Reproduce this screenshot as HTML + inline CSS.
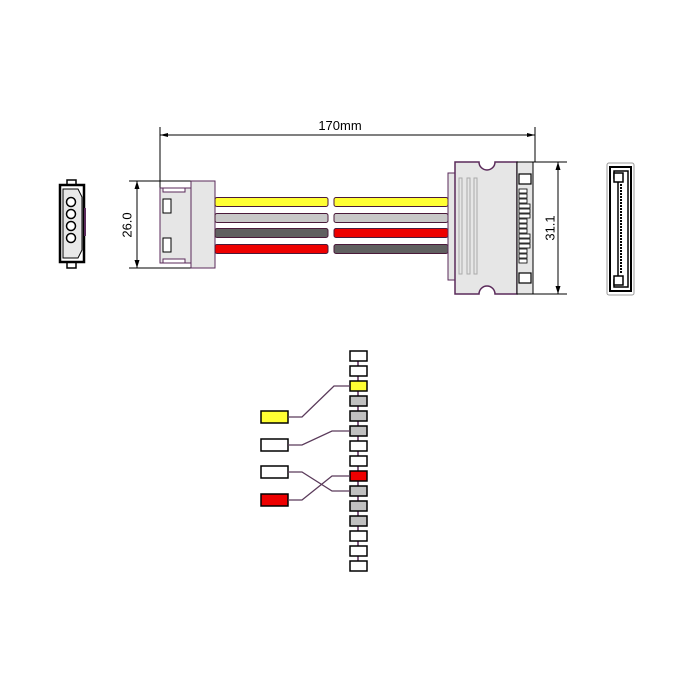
<!DOCTYPE html>
<html><head><meta charset="utf-8"><style>
html,body{margin:0;padding:0;background:#fff;}
svg{display:block;font-family:"Liberation Sans",sans-serif;}
</style></head><body>
<svg width="689" height="689" viewBox="0 0 689 689" xmlns="http://www.w3.org/2000/svg">
<!-- Molex front -->
<rect x="67" y="180" width="9" height="6" fill="#fff" stroke="#000" stroke-width="1.5"/>
<rect x="67" y="262" width="9" height="6" fill="#fff" stroke="#000" stroke-width="1.5"/>
<rect x="60" y="185" width="24" height="77" fill="#fff" stroke="#000" stroke-width="2.5"/>
<path d="M63 189 L78 189 L82 197 L82 250 L78 258 L63 258 Z" fill="#e8e8e8" stroke="#000" stroke-width="1"/>
<rect x="84" y="208" width="2" height="28" fill="#5a2a5a"/>
<g fill="#fff" stroke="#000" stroke-width="1.5">
<circle cx="71" cy="202" r="4.5"/><circle cx="71" cy="214" r="4.5"/><circle cx="71" cy="226" r="4.5"/><circle cx="71" cy="238" r="4.5"/>
</g>
<!-- dimensions -->
<g stroke="#000" stroke-width="1" fill="none">
<line x1="129" y1="181" x2="191" y2="181"/>
<line x1="129" y1="268" x2="215" y2="268"/>
<line x1="137" y1="181" x2="137" y2="268"/>
<line x1="160" y1="127" x2="160" y2="188"/>
<line x1="160" y1="135" x2="535" y2="135"/>
<line x1="535" y1="127" x2="535" y2="162"/>
<line x1="517" y1="162" x2="567" y2="162"/>
<line x1="517" y1="294" x2="567" y2="294"/>
<line x1="558" y1="162" x2="558" y2="294"/>
</g>
<g fill="#000">
<path d="M137 181 l-2.5 8 h5 z"/><path d="M137 268 l-2.5 -8 h5 z"/>
<path d="M160 135 l8 -2 v4 z"/><path d="M535 135 l-8 -2 v4 z"/>
<path d="M558 162 l-2.5 8 h5 z"/><path d="M558 294 l-2.5 -8 h5 z"/>
</g>
<text x="128" y="225" font-size="13" text-anchor="middle" transform="rotate(-90 128 225)" dominant-baseline="middle">26.0</text>
<text x="551" y="228" font-size="13" text-anchor="middle" transform="rotate(-90 551 228)" dominant-baseline="middle">31.1</text>
<text x="340" y="130" font-size="13" text-anchor="middle">170mm</text>
<!-- left connector -->
<rect x="160" y="188" width="31" height="75" fill="#e6e6e6" stroke="#5a2a5a" stroke-width="1"/>
<rect x="191" y="181" width="24" height="87" fill="#e6e6e6" stroke="#5a2a5a" stroke-width="1"/>
<rect x="163" y="188" width="22" height="4" fill="#fff" stroke="#5a2a5a" stroke-width="1"/>
<rect x="163" y="259" width="22" height="4" fill="#fff" stroke="#5a2a5a" stroke-width="1"/>
<rect x="163" y="199" width="8" height="14" fill="#fff" stroke="#000" stroke-width="1"/>
<rect x="163" y="238" width="8" height="14" fill="#fff" stroke="#000" stroke-width="1"/>
<!-- wires -->
<g stroke="#4a1a3a" stroke-width="1">
<rect x="215" y="197.5" width="113" height="9" rx="2" fill="#ffff33"/>
<rect x="215" y="213.5" width="113" height="9" rx="2" fill="#c8c8c8"/>
<rect x="215" y="228.5" width="113" height="9" rx="2" fill="#606060"/>
<rect x="215" y="244.5" width="113" height="9" rx="2" fill="#ee0000"/>
<rect x="334" y="197.5" width="114" height="9" rx="2" fill="#ffff33"/>
<rect x="334" y="213.5" width="114" height="9" rx="2" fill="#c8c8c8"/>
<rect x="334" y="228.5" width="114" height="9" rx="2" fill="#ee0000"/>
<rect x="334" y="244.5" width="114" height="9" rx="2" fill="#606060"/>
</g>
<!-- SATA connector -->
<rect x="448" y="173" width="7" height="107" fill="#e6e6e6" stroke="#5a2a5a" stroke-width="1"/>
<path d="M455 162 H479 A8 8 0 0 0 495 162 H517 V294 H495 A8 8 0 0 0 479 294 H455 Z" fill="#e6e6e6" stroke="#5a2a5a" stroke-width="1.5"/>
<g stroke="#aaa" stroke-width="1" fill="none">
<rect x="459" y="178" width="3" height="96"/><rect x="467" y="178" width="3" height="96"/><rect x="474" y="178" width="3" height="96"/>
</g>
<path d="M517 162 H533 V294 H517 Z" fill="#e6e6e6" stroke="#000" stroke-width="1"/>
<rect x="519" y="174" width="12" height="10" fill="#fff" stroke="#000" stroke-width="1.2"/>
<rect x="519" y="273" width="12" height="10" fill="#fff" stroke="#000" stroke-width="1.2"/>
<g fill="#fff" stroke="#000" stroke-width="0.8">
<rect x="519" y="189" width="8" height="4"/><rect x="519" y="194" width="8" height="4"/><rect x="519" y="199" width="8" height="4"/>
<rect x="519" y="204" width="11" height="4"/><rect x="519" y="209" width="11" height="4"/><rect x="519" y="214" width="11" height="4"/>
<rect x="519" y="219" width="8" height="4"/><rect x="519" y="224" width="8" height="4"/><rect x="519" y="229" width="8" height="4"/>
<rect x="519" y="234" width="11" height="4"/><rect x="519" y="239" width="11" height="4"/><rect x="519" y="244" width="11" height="4"/>
<rect x="519" y="249" width="8" height="4"/><rect x="519" y="254" width="8" height="4"/><rect x="519" y="259" width="8" height="4"/>
</g>
<!-- SATA face -->
<rect x="607" y="163" width="27" height="132" rx="2" fill="#fff" stroke="#999" stroke-width="1"/>
<rect x="610" y="167" width="21" height="124" fill="#fff" stroke="#000" stroke-width="2"/>
<path d="M614 171 H628 V287 H614 V280 H618 V178 H614 Z" fill="#fff" stroke="#000" stroke-width="1.5"/>
<rect x="614" y="173" width="9" height="9" fill="#fff" stroke="#000" stroke-width="1.5"/>
<rect x="614" y="276" width="9" height="9" fill="#fff" stroke="#000" stroke-width="1.5"/>
<line x1="621" y1="184" x2="621" y2="274" stroke="#000" stroke-width="2" stroke-dasharray="2,1"/>
<!-- pinout -->
<line x1="358" y1="352" x2="358" y2="570" stroke="#5a2a5a" stroke-width="1.5"/>
<g stroke="#000" stroke-width="1.5">
<rect x="350" y="351" width="17" height="10" fill="#fff"/>
<rect x="350" y="366" width="17" height="10" fill="#fff"/>
<rect x="350" y="381" width="17" height="10" fill="#ffff33"/>
<rect x="350" y="396" width="17" height="10" fill="#c0c0c0"/>
<rect x="350" y="411" width="17" height="10" fill="#c0c0c0"/>
<rect x="350" y="426" width="17" height="10" fill="#c0c0c0"/>
<rect x="350" y="441" width="17" height="10" fill="#fff"/>
<rect x="350" y="456" width="17" height="10" fill="#fff"/>
<rect x="350" y="471" width="17" height="10" fill="#ee0000"/>
<rect x="350" y="486" width="17" height="10" fill="#c0c0c0"/>
<rect x="350" y="501" width="17" height="10" fill="#c0c0c0"/>
<rect x="350" y="516" width="17" height="10" fill="#c0c0c0"/>
<rect x="350" y="531" width="17" height="10" fill="#fff"/>
<rect x="350" y="546" width="17" height="10" fill="#fff"/>
<rect x="350" y="561" width="17" height="10" fill="#fff"/>
<rect x="261" y="411" width="27" height="12" fill="#ffff33"/>
<rect x="261" y="439" width="27" height="12" fill="#fff"/>
<rect x="261" y="466" width="27" height="12" fill="#fff"/>
<rect x="261" y="494" width="27" height="12" fill="#ee0000"/>
</g>
<g stroke="#5a3a5a" stroke-width="1.3" fill="none">
<polyline points="288,417 302,417 334,386 350,386"/>
<polyline points="288,445 302,445 332,431 350,431"/>
<polyline points="288,472 302,472 332,491 350,491"/>
<polyline points="288,500 302,500 332,476 350,476"/>
</g>
</svg>
</body></html>
